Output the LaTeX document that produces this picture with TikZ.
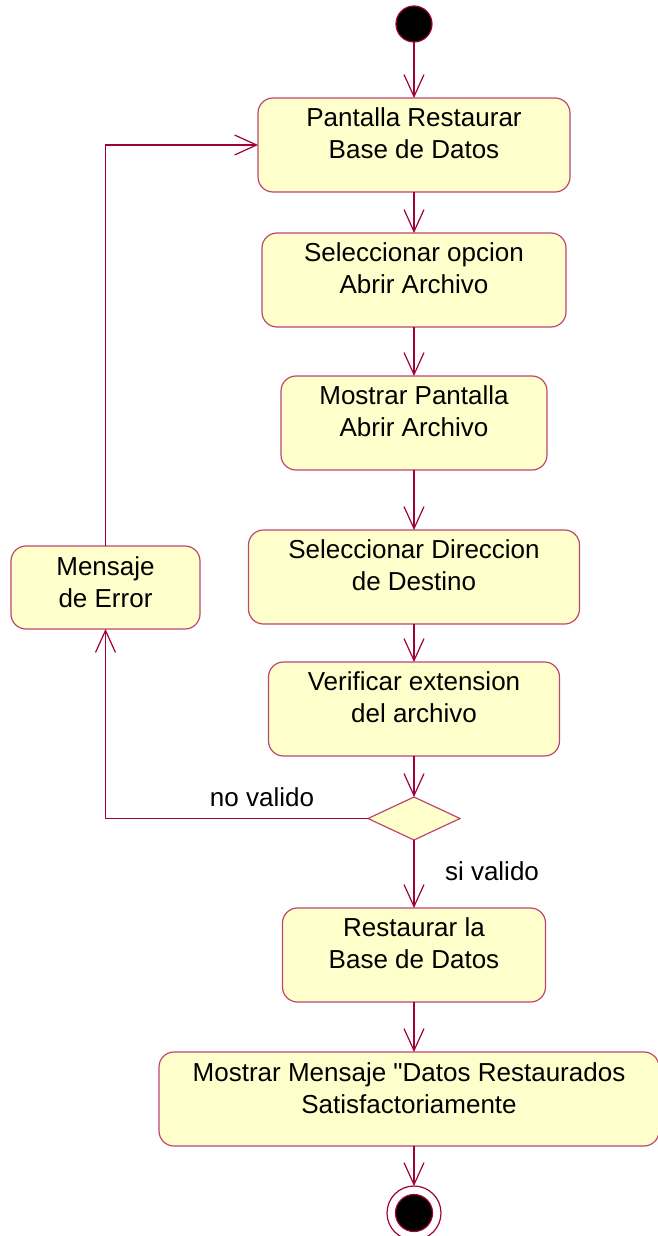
\documentclass[tikz,border=0pt]{standalone}
\usepackage{fontspec}
\setmainfont{Liberation Sans}[Ligatures=TeXOff]
\usetikzlibrary{positioning,shapes.geometric,arrows.meta}
\definecolor{linea}{RGB}{160,0,60}
\definecolor{borde}{RGB}{190,70,110}
\definecolor{relleno}{RGB}{255,255,204}

\begin{document}
\begin{tikzpicture}[x=1pt, y=-1pt, line width=1.2pt, outer sep=0pt,
    act/.style = {draw=borde, fill=relleno, rounded corners=15pt, minimum height=94pt, align=center, inner sep=0pt},
    flecha/.style = {draw=linea, -{Straight Barb[length=22pt, width=20pt]}},
    font=\fontsize{26}{32}\selectfont]
    \useasboundingbox (0,0) rectangle (658,1236);
    \node[circle, draw=linea, fill=black, minimum size=36pt, inner sep=0pt] (inicio) at (414,24) {};
    \node[act, minimum width=312pt] (pantalla) [below=56pt of inicio] {Pantalla Restaurar\\Base de Datos\\[-8pt]~};
    \node[act, minimum width=304pt] (seleccionar) [below=41pt of pantalla] {Seleccionar opcion\\Abrir Archivo\\[-8pt]~};
    \node[act, minimum width=266pt] (mostrar) [below=49pt of seleccionar] {Mostrar Pantalla\\Abrir Archivo\\[-8pt]~};
    \node[act, minimum width=331pt] (direccion) [below=60pt of mostrar] {Seleccionar Direccion\\de Destino\\[-8pt]~};
    \node[act, minimum width=291pt] (verificar) [below=38pt of direccion] {Verificar extension\\del archivo\\[-8pt]~};
    \node[diamond, draw=borde, fill=relleno, minimum width=92pt, minimum height=43pt, inner sep=0pt] (decision) [below=41pt of verificar] {};
    \node[act, minimum width=263pt] (restaurar) [below=68pt of decision] {Restaurar la\\Base de Datos\\[-8pt]~};
    \node[act, minimum width=500pt] (mensaje) [below=50pt of restaurar, xshift=-5pt] {Mostrar Mensaje "Datos Restaurados\\Satisfactoriamente\\[-10pt]~};
    \node[circle, draw=linea, fill=white, minimum size=54pt, inner sep=0pt] (fin) [below=40pt of mensaje, xshift=5pt] {};
    \node[circle, draw=linea, fill=black, minimum size=37pt, inner sep=0pt] (finint) at (fin) {};
    \node[act, minimum width=189pt, minimum height=83pt] (error) at (105.5,587.5) {Mensaje\\de Error\\[-21pt]~};
    \node (novalido) at (262,797) {no valido};
    \node (sivalido) at (492,871) {si valido};
    % flujo principal
    \draw[flecha] (inicio) -- (pantalla);
    \draw[flecha] (pantalla) -- (seleccionar);
    \draw[flecha] (seleccionar) -- (mostrar);
    \draw[flecha] (mostrar) -- (direccion);
    \draw[flecha] (direccion) -- (verificar);
    \draw[flecha] (verificar) -- (decision);
    \draw[flecha] (decision) -- (restaurar);
    \draw[flecha] (restaurar.south) -- (restaurar.south |- mensaje.north);
    \draw[flecha] (mensaje.south -| fin) -- (fin);
    % retorno por error
    \draw[flecha] (decision.west) -| (error.south);
    \draw[flecha] (error.north) |- (pantalla.west);
\end{tikzpicture}
\end{document}
